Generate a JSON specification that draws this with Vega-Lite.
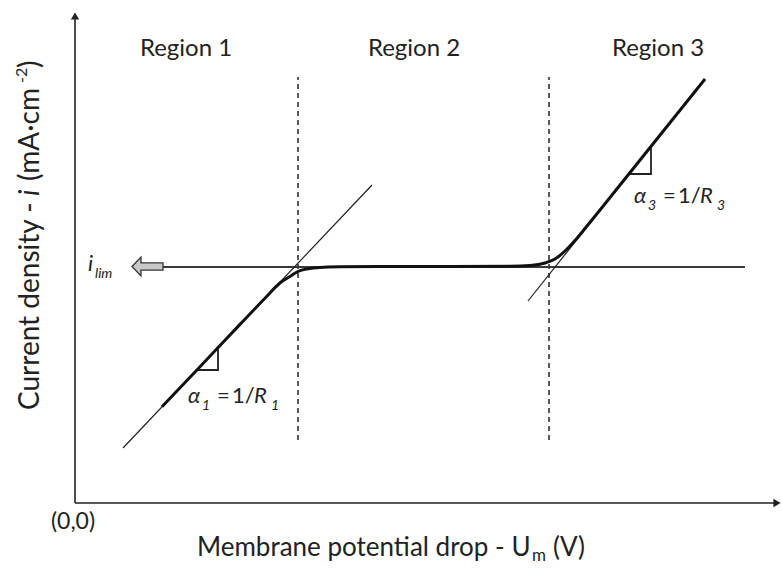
{
  "$schema": "https://vega.github.io/schema/vega-lite/v6.json",
  "width": 782,
  "height": 569,
  "autosize": "none",
  "padding": 0,
  "background": "white",
  "config": {"view": {"stroke": null}, "font": "Lato", "text": {"font": "Lato", "color": "#222"}},
  "datasets": {
    "curve": [
      {"k": 1, "u": 8.7, "i": 9.62}, {"k": 2, "u": 12.5, "i": 13.63}, {"k": 3, "u": 16.5, "i": 17.86},
      {"k": 4, "u": 19.0, "i": 20.48}, {"k": 5, "u": 20.5, "i": 22.0}, {"k": 6, "u": 21.5, "i": 22.65},
      {"k": 7, "u": 22.3, "i": 23.15}, {"k": 8, "u": 23.3, "i": 23.42}, {"k": 9, "u": 24.5, "i": 23.56},
      {"k": 10, "u": 26.5, "i": 23.62}, {"k": 11, "u": 30.5, "i": 23.65}, {"k": 12, "u": 37.5, "i": 23.65},
      {"k": 13, "u": 43.5, "i": 23.67}, {"k": 14, "u": 45.5, "i": 23.75}, {"k": 15, "u": 47.0, "i": 24.0},
      {"k": 16, "u": 48.0, "i": 24.4}, {"k": 17, "u": 49.0, "i": 25.2}, {"k": 18, "u": 50.0, "i": 26.25},
      {"k": 19, "u": 51.0, "i": 27.45}, {"k": 20, "u": 52.5, "i": 29.3}, {"k": 21, "u": 63.0, "i": 42.4}
    ],
    "tangents": [
      {"seg": "tan1", "k": 1, "u": 4.8, "i": 5.5}, {"seg": "tan1", "k": 2, "u": 29.7, "i": 31.8},
      {"seg": "tan3", "k": 1, "u": 45.3, "i": 20.2}, {"seg": "tan3", "k": 2, "u": 63.0, "i": 42.4}
    ],
    "triangles": [
      {"seg": "tri1", "k": 1, "u": 12.2, "i": 13.3}, {"seg": "tri1", "k": 2, "u": 14.3, "i": 13.3}, {"seg": "tri1", "k": 3, "u": 14.3, "i": 15.5},
      {"seg": "tri3", "k": 1, "u": 55.5, "i": 32.9}, {"seg": "tri3", "k": 2, "u": 57.6, "i": 32.9}, {"seg": "tri3", "k": 3, "u": 57.6, "i": 35.55}
    ],
    "ilim": [
      {"k": 1, "u": 8.8, "i": 23.6}, {"k": 2, "u": 67.0, "i": 23.6}
    ],
    "dashes": [
      {"seg": "d1", "k": 1, "u": 22.3, "i": 6.3}, {"seg": "d1", "k": 2, "u": 22.3, "i": 42.6},
      {"seg": "d2", "k": 1, "u": 47.4, "i": 6.3}, {"seg": "d2", "k": 2, "u": 47.4, "i": 42.6}
    ],
    "axes": [
      {"seg": "y", "k": 1, "u": 0, "i": 0}, {"seg": "y", "k": 2, "u": 0, "i": 48.5},
      {"seg": "x", "k": 1, "u": 0, "i": 0}, {"seg": "x", "k": 2, "u": 70.0, "i": 0}
    ],
    "heads": [
      {"name": "yhead", "u": 0, "i": 48.7},
      {"name": "xhead", "u": 70.2, "i": 0},
      {"name": "ilimArrow", "u": 7.25, "i": 23.65}
    ],
    "labels": [
      {"role": "region", "text": "Region 1", "u": 11.1, "i": 44.7},
      {"role": "region", "text": "Region 2", "u": 33.9, "i": 44.7},
      {"role": "region", "text": "Region 3", "u": 58.3, "i": 44.7},
      {"role": "origin", "text": "(0,0)", "u": -0.2, "i": -2.6},
      {"role": "italic", "text": "α", "u": 11.3, "i": 10.0},
      {"role": "italic", "text": "R", "u": 17.9, "i": 10.0},
      {"role": "italic", "text": "α", "u": 55.9, "i": 30.0},
      {"role": "italic", "text": "R", "u": 62.5, "i": 30.0},
      {"role": "italic", "text": "i", "u": 1.3, "i": 23.2},
      {"role": "sub", "text": "1", "u": 12.7, "i": 9.3},
      {"role": "sub", "text": "1", "u": 19.6, "i": 9.3},
      {"role": "sub", "text": "3", "u": 57.3, "i": 29.3},
      {"role": "sub", "text": "3", "u": 64.2, "i": 29.3},
      {"role": "sub", "text": "lim", "u": 2.0, "i": 22.5},
      {"role": "upright", "text": "=", "u": 14.2, "i": 10.0},
      {"role": "upright", "text": "1/", "u": 15.7, "i": 10.0},
      {"role": "upright", "text": "=", "u": 58.8, "i": 30.0},
      {"role": "upright", "text": "1/", "u": 60.3, "i": 30.0},
      {"role": "xtitle", "text": "Membrane potential drop - U", "u": 12.2, "i": -5.3},
      {"role": "xtitle", "text": "(V)", "u": 47.8, "i": -5.3},
      {"role": "xsub", "text": "m", "u": 45.7, "i": -5.8},
      {"role": "ytitle", "text": "Current density -", "u": -3.6, "i": 9.3},
      {"role": "ytitle", "text": "(mA·cm", "u": -3.6, "i": 32.2},
      {"role": "ytitle", "text": ")", "u": -3.6, "i": 43.5},
      {"role": "ytitleItalic", "text": "i", "u": -3.6, "i": 30.7},
      {"role": "ysup", "text": "-2", "u": -4.8, "i": 42.0}
    ]
  },
  "encoding": {
    "x": {"field": "u", "type": "quantitative", "scale": {"domain": [-7.5, 70.7], "nice": false, "zero": false}, "axis": null},
    "y": {"field": "i", "type": "quantitative", "scale": {"domain": [-6.6, 50.3], "nice": false, "zero": false}, "axis": null}
  },
  "layer": [
    {"data": {"name": "axes"}, "mark": {"type": "line", "color": "#222", "strokeWidth": 1.6},
     "encoding": {"detail": {"field": "seg"}, "order": {"field": "k"}}},
    {"data": {"name": "dashes"}, "mark": {"type": "line", "color": "#222", "strokeWidth": 1.5, "strokeDash": [5, 4]},
     "encoding": {"detail": {"field": "seg"}, "order": {"field": "k"}}},
    {"data": {"name": "ilim"}, "mark": {"type": "line", "color": "#3a3a3a", "strokeWidth": 2.2},
     "encoding": {"order": {"field": "k"}}},
    {"data": {"name": "tangents"}, "mark": {"type": "line", "color": "#222", "strokeWidth": 1.2},
     "encoding": {"detail": {"field": "seg"}, "order": {"field": "k"}}},
    {"data": {"name": "triangles"}, "mark": {"type": "line", "color": "#222", "strokeWidth": 1.8},
     "encoding": {"detail": {"field": "seg"}, "order": {"field": "k"}}},
    {"data": {"name": "curve"}, "mark": {"type": "line", "color": "#111", "strokeWidth": 3, "interpolate": "monotone"},
     "encoding": {"order": {"field": "k"}}},
    {"data": {"name": "heads"}, "transform": [{"filter": "datum.name === 'yhead'"}],
     "mark": {"type": "point", "shape": "triangle-up", "filled": true, "color": "#222", "size": 70, "opacity": 1}},
    {"data": {"name": "heads"}, "transform": [{"filter": "datum.name === 'xhead'"}],
     "mark": {"type": "point", "shape": "triangle-right", "filled": true, "color": "#222", "size": 70, "opacity": 1}},
    {"data": {"name": "heads"}, "transform": [{"filter": "datum.name === 'ilimArrow'"}],
     "mark": {"type": "point", "shape": "M -1 0 L -0.42 -0.61 L -0.42 -0.23 L 1 -0.23 L 1 0.23 L -0.42 0.23 L -0.42 0.61 Z",
              "filled": true, "fill": "#c8c8c8", "stroke": "#333", "strokeWidth": 1.3, "size": 961, "opacity": 1}},
    {"data": {"name": "labels"}, "transform": [{"filter": "datum.role === 'region'"}],
     "mark": {"type": "text", "fontSize": 24, "align": "center", "baseline": "alphabetic"},
     "encoding": {"text": {"field": "text"}}},
    {"data": {"name": "labels"}, "transform": [{"filter": "datum.role === 'origin'"}],
     "mark": {"type": "text", "fontSize": 23, "align": "center", "baseline": "alphabetic"},
     "encoding": {"text": {"field": "text"}}},
    {"data": {"name": "labels"}, "transform": [{"filter": "datum.role === 'italic'"}],
     "mark": {"type": "text", "fontSize": 22, "fontStyle": "italic", "align": "left", "baseline": "alphabetic"},
     "encoding": {"text": {"field": "text"}}},
    {"data": {"name": "labels"}, "transform": [{"filter": "datum.role === 'sub'"}],
     "mark": {"type": "text", "fontSize": 14, "fontStyle": "italic", "align": "left", "baseline": "alphabetic"},
     "encoding": {"text": {"field": "text"}}},
    {"data": {"name": "labels"}, "transform": [{"filter": "datum.role === 'upright'"}],
     "mark": {"type": "text", "fontSize": 22, "align": "left", "baseline": "alphabetic"},
     "encoding": {"text": {"field": "text"}}},
    {"data": {"name": "labels"}, "transform": [{"filter": "datum.role === 'xtitle'"}],
     "mark": {"type": "text", "fontSize": 26, "align": "left", "baseline": "alphabetic"},
     "encoding": {"text": {"field": "text"}}},
    {"data": {"name": "labels"}, "transform": [{"filter": "datum.role === 'xsub'"}],
     "mark": {"type": "text", "fontSize": 17, "align": "left", "baseline": "alphabetic"},
     "encoding": {"text": {"field": "text"}}},
    {"data": {"name": "labels"}, "transform": [{"filter": "datum.role === 'ytitle'"}],
     "mark": {"type": "text", "fontSize": 28, "angle": 270, "align": "left", "baseline": "alphabetic"},
     "encoding": {"text": {"field": "text"}}},
    {"data": {"name": "labels"}, "transform": [{"filter": "datum.role === 'ytitleItalic'"}],
     "mark": {"type": "text", "fontSize": 28, "fontStyle": "italic", "angle": 270, "align": "left", "baseline": "alphabetic"},
     "encoding": {"text": {"field": "text"}}},
    {"data": {"name": "labels"}, "transform": [{"filter": "datum.role === 'ysup'"}],
     "mark": {"type": "text", "fontSize": 16, "angle": 270, "align": "left", "baseline": "alphabetic"},
     "encoding": {"text": {"field": "text"}}}
  ]
}
